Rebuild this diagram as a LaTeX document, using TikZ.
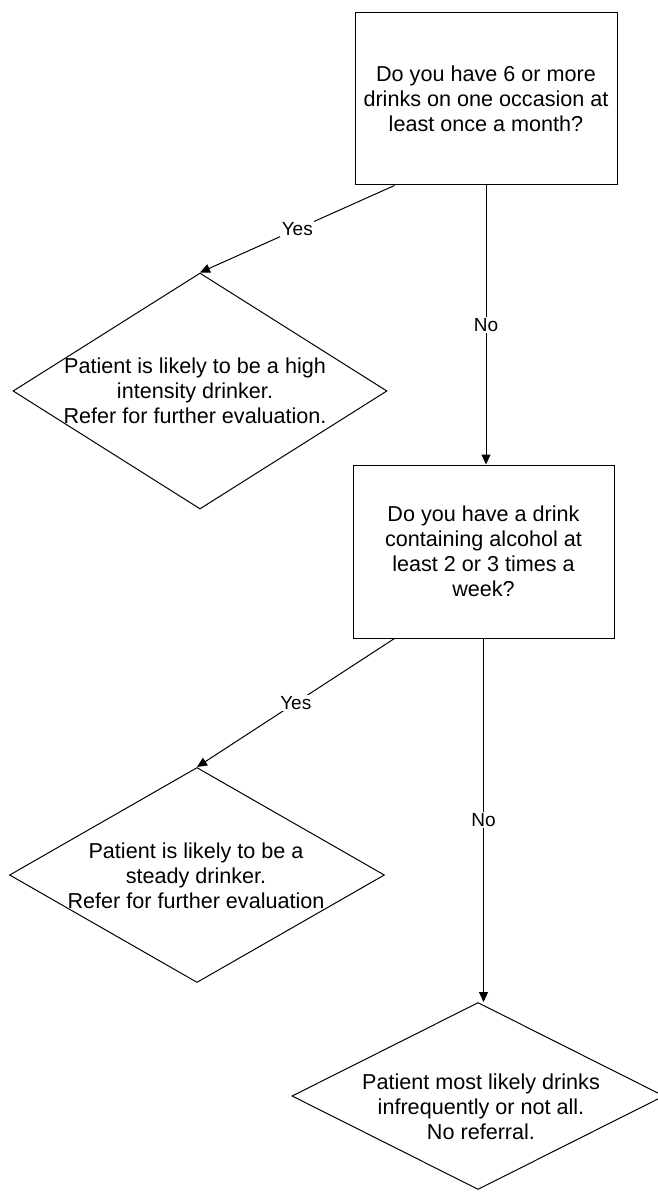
\documentclass[tikz,border=0pt]{standalone}
\usepackage{fontspec}
\setmainfont{Liberation Sans}
\usetikzlibrary{shapes.geometric,arrows.meta,calc}
\tikzset{
  qbox/.style={draw, line width=1pt, minimum width=262pt, minimum height=172pt, inner sep=0pt,
    align=center, font=\fontsize{21.6}{25}\selectfont},
  dia/.style={draw, diamond, line width=1pt, inner sep=0pt},
  dtext/.style={align=center, font=\fontsize{21.6}{25}\selectfont, inner sep=0pt},
  conn/.style={line width=1pt, -{Triangle[length=10pt,width=9pt]}},
  lab/.style={fill=white, inner sep=1.5pt, font=\fontsize{19}{21}\selectfont}
}
\begin{document}
\begin{tikzpicture}[x=1pt,y=-1pt]
\useasboundingbox (0,0) rectangle (657,1193);
\node[qbox] (b1) at (486,99) {Do you have 6 or more\\drinks on one occasion at\\least once a month?};
\node[qbox, minimum width=261pt, minimum height=173pt] (b2) at (483.5,551.5) {Do you have a drink\\containing alcohol at\\least 2 or 3 times a\\week?};
\node[dia, minimum width=374pt, minimum height=236pt] (d1) at (200,391) {};
\node[dtext] (t1) at (195,391) {Patient is likely to be a high\\intensity drinker.\\Refer for further evaluation.};
\node[dia, minimum width=375pt, minimum height=215pt] (d2) at (197,875) {};
\node[dtext] (t2) at (196,876) {Patient is likely to be a\\steady drinker.\\Refer for further evaluation};
\node[dia, minimum width=372pt, minimum height=187pt] (d3) at (478,1096) {};
\node[dtext] (t3) at (481,1107) {Patient most likely drinks\\infrequently or not all.\\No referral.};
\coordinate (y1) at ($(b1.south west)+(40,0)$);
\coordinate (y2) at ($(b2.south west)+(42,0)$);
\draw[conn] (y1) -- node[lab] {Yes} (d1.north);
\draw[conn] (b1.south) -- node[lab] {No} (b1.south |- b2.north);
\draw[conn] (y2) -- node[lab] {Yes} (d2.north);
\draw[conn] (b2.south) -- node[lab] {No} (b2.south |- d3.north);
\end{tikzpicture}
\end{document}
